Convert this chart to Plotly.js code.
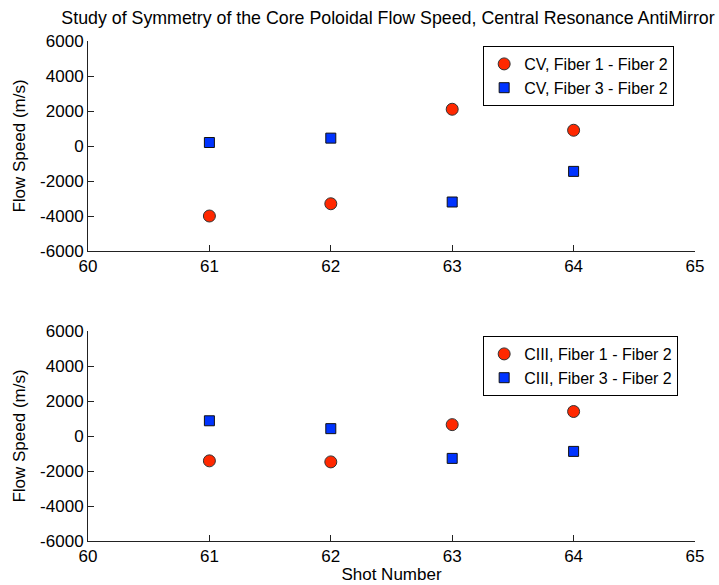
<!DOCTYPE html>
<html>
<head>
<meta charset="utf-8">
<script src="https://cdn.plot.ly/plotly-3.0.1.min.js"></script>
<style>html,body{margin:0;padding:0;background:#fff;}#chart{width:719px;height:585px;}</style>
</head>
<body>
<div id="chart"></div>
<script>
var shots = [61, 62, 63, 64];
var cvF1F2 = [-4000, -3300, 2100, 900];
var cvF3F2 = [200, 450, -3200, -1450];
var ciiiF1F2 = [-1420, -1480, 650, 1400];
var ciiiF3F2 = [870, 420, -1280, -880];
var xTicks = [60, 61, 62, 63, 64, 65];
var yTicks = [-6000, -4000, -2000, 0, 2000, 4000, 6000];

var red = 'rgb(255,40,0)';
var blue = 'rgb(0,51,255)';
var FONT = 'Liberation Sans, Arial, sans-serif';

function circ(name, y, xa, ya, leg) {
  return {x: shots, y: y, name: name, type: 'scatter', mode: 'markers', xaxis: xa, yaxis: ya, legend: leg,
    marker: {symbol: 'circle', size: 12, color: red, line: {color: '#333', width: 1}}};
}
function sq(name, y, xa, ya, leg) {
  return {x: shots, y: y, name: name, type: 'scatter', mode: 'markers', xaxis: xa, yaxis: ya, legend: leg,
    marker: {symbol: 'square', size: 10, color: blue, line: {color: '#111', width: 1}}};
}

var data = [
  circ('CV, Fiber 1 - Fiber 2', cvF1F2, 'x', 'y', 'legend'),
  sq('CV, Fiber 3 - Fiber 2', cvF3F2, 'x', 'y', 'legend'),
  circ('CIII, Fiber 1 - Fiber 2', ciiiF1F2, 'x2', 'y2', 'legend2'),
  sq('CIII, Fiber 3 - Fiber 2', ciiiF3F2, 'x2', 'y2', 'legend2')
];

function xax(anchor, title) {
  var a = {anchor: anchor, range: [60, 65], tickvals: xTicks, ticktext: xTicks.map(String),
    ticks: 'inside', ticklen: 6, tickcolor: '#222', showline: true, linecolor: '#222', linewidth: 1,
    showgrid: false, zeroline: false, mirror: false, tickfont: {family: FONT, size: 17, color: '#000'}};
  if (title) a.title = {text: title, font: {family: FONT, size: 17, color: '#000'}, standoff: 2};
  return a;
}
function yax(anchor, domain) {
  return {anchor: anchor, domain: domain, range: [-6000, 6000], tickvals: yTicks, ticktext: yTicks.map(String),
    ticks: 'inside', ticklen: 6, tickcolor: '#222', showline: true, linecolor: '#222', linewidth: 1,
    showgrid: false, zeroline: false, mirror: false, tickfont: {family: FONT, size: 17, color: '#000'},
    title: {text: 'Flow Speed (m/s)', font: {family: FONT, size: 17, color: '#000'}, standoff: 10}};
}

var layout = {
  width: 719, height: 585,
  margin: {l: 88, r: 24, t: 41, b: 44},
  paper_bgcolor: '#fff', plot_bgcolor: '#fff',
  showlegend: true,
  title: {text: 'Study of Symmetry of the Core Poloidal Flow Speed, Central Resonance AntiMirror',
    font: {family: FONT, size: 17.8, color: '#000'}, x: 388 / 719, xanchor: 'center', y: 1 - 18 / 585, yanchor: 'middle'},
  xaxis: xax('y'),
  yaxis: yax('x', [0.58, 1]),
  xaxis2: xax('y2', 'Shot Number'),
  yaxis2: yax('x2', [0, 0.42]),
  legend: {x: 0.651, y: 0.99, xanchor: 'left', yanchor: 'top', bordercolor: '#000', borderwidth: 1,
    bgcolor: '#fff', font: {family: FONT, size: 16, color: '#000'}},
  legend2: {x: 0.651, y: 0.41, xanchor: 'left', yanchor: 'top', bordercolor: '#000', borderwidth: 1,
    bgcolor: '#fff', font: {family: FONT, size: 16, color: '#000'}}
};

Plotly.newPlot('chart', data, layout, {displayModeBar: false, staticPlot: true});
</script>
</body>
</html>
